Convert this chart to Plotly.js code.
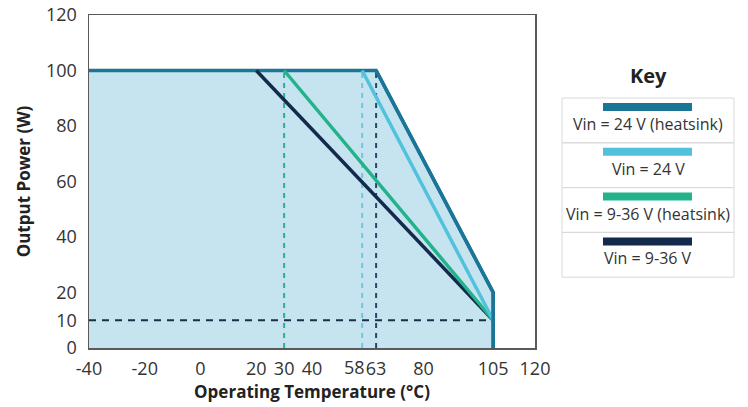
<!DOCTYPE html>
<html><head><meta charset="utf-8">
<script src="https://cdn.plot.ly/plotly-3.0.1.min.js"></script>
<style>html,body{margin:0;padding:0;background:#fff;}#chart{width:748px;height:407px;}</style>
</head><body><div id="chart"></div>
<script>
// ---- data ----
const seriesNames = ['Vin = 24 V (heatsink)', 'Vin = 24 V', 'Vin = 9-36 V (heatsink)', 'Vin = 9-36 V'];
const seriesColors = ['#1a7597', '#52c2dc', '#22b38c', '#132a4c'];
const tempHs24 = [-40, 63, 105, 105];
const powHs24 = [100, 100, 20, 0];
const temp24 = [58, 105];
const pow24 = [100, 10];
const tempHs936 = [30, 105];
const powHs936 = [100, 10];
const temp936 = [20, 105];
const pow936 = [100, 10];
// derating markers (dashed)
const kneeTemps = [30, 58, 63];
const kneeColors = ['#2aae98', '#6cc6de', '#24476a'];
const kneePower = 100;
const minPower = 10;
const minPowerRange = [-40, 105];
const xTickVals = [-40, -20, 0, 20, 30, 40, 58, 63, 80, 105, 120];
const xTickText = ['-40', '-20', '0', '20', '30', '40', '58', '63', '80', '105', '120'];
const yTickVals = [0, 10, 20, 40, 60, 80, 100, 120];
const yTickText = ['0', '10', '20', '40', '60', '80', '100', '120'];

// ---- layout geometry ----
const W = 748, H = 407;
const L = 89, R = 535, T = 15, B = 348;
const px = p => (p - L) / (R - L);
const py = p => (B - p) / (B - T);

const traces = [];
traces.push({x: tempHs24, y: powHs24, mode: 'lines', fill: 'tozeroy',
  fillcolor: 'rgba(112,187,215,0.40)', line: {color: seriesColors[0], width: 3.5}, hoverinfo: 'skip'});
kneeTemps.forEach((t, i) => {
  traces.push({x: [t, t], y: [0, kneePower], mode: 'lines',
    line: {color: kneeColors[i], width: 2, dash: '5px,5px'}, hoverinfo: 'skip'});
});
traces.push({x: minPowerRange, y: [minPower, minPower], mode: 'lines',
  line: {color: '#1a2e4a', width: 2, dash: '7px,6px'}, hoverinfo: 'skip'});
traces.push({x: temp936, y: pow936, mode: 'lines', line: {color: seriesColors[3], width: 3.5}});
traces.push({x: tempHs936, y: powHs936, mode: 'lines', line: {color: seriesColors[2], width: 3.5}});
traces.push({x: temp24, y: pow24, mode: 'lines', line: {color: seriesColors[1], width: 3.5}});
traces.push({x: tempHs24.slice(1), y: powHs24.slice(1), mode: 'lines', line: {color: seriesColors[0], width: 3.5}});

const font = 'Open Sans, Noto Sans, sans-serif';
const shapes = [], annotations = [];

// the crowded "58" tick label is nudged left (as in the reference) via an annotation
const crowdedIdx = xTickVals.indexOf(58);
const tickTextShown = xTickText.map((t, i) => i === crowdedIdx ? '' : t);
annotations.push({xref: 'x', yref: 'paper', x: xTickVals[crowdedIdx], y: py(367), xshift: -8,
  text: xTickText[crowdedIdx], showarrow: false, font: {family: font, size: 18, color: '#333'},
  xanchor: 'center', yanchor: 'middle', borderpad: 0});

// Legend ("Key") drawn as cells
const cellTop = 98, cellH = 44.8, cellL = 562, cellR = 734;
annotations.push({xref: 'paper', yref: 'paper', x: px(648), y: py(75), text: '<b>Key</b>',
  showarrow: false, font: {family: font, size: 20, color: '#222'}, xanchor: 'center', yanchor: 'middle'});
seriesNames.forEach((n, i) => {
  const top = cellTop + i * cellH;
  shapes.push({type: 'rect', xref: 'paper', yref: 'paper', x0: px(cellL), x1: px(cellR), y0: py(top), y1: py(top + cellH),
    line: {color: '#d9d9d9', width: 1}, fillcolor: 'rgba(0,0,0,0)'});
  shapes.push({type: 'rect', xref: 'paper', yref: 'paper', x0: px(603), x1: px(692), y0: py(top + 5), y1: py(top + 13),
    line: {width: 0}, fillcolor: seriesColors[i]});
  annotations.push({xref: 'paper', yref: 'paper', x: px(648), y: py(top + 26), text: n, showarrow: false,
    font: {family: font, size: 16, color: '#333'}, xanchor: 'center', yanchor: 'middle'});
});

const layout = {
  width: W, height: H, margin: {l: L, r: W - R, t: T, b: H - B, pad: 0},
  paper_bgcolor: '#fff', plot_bgcolor: '#fff', showlegend: false,
  font: {family: font, size: 18, color: '#333'},
  xaxis: {range: [-40, 120], tickmode: 'array', tickvals: xTickVals, ticktext: tickTextShown, showgrid: false, zeroline: false,
    showline: true, mirror: true, linecolor: '#5a5a5a', linewidth: 1.5, ticks: '', ticklabelstandoff: 4, tickangle: 0,
    tickfont: {family: font, size: 18, color: '#333'},
    title: {text: '<b>Operating Temperature (°C)</b>', font: {family: font, size: 17, color: '#222'}, standoff: 6}},
  yaxis: {range: [0, 120], tickmode: 'array', tickvals: yTickVals, ticktext: yTickText, showgrid: false, zeroline: false,
    showline: true, mirror: true, linecolor: '#5a5a5a', linewidth: 1.5, ticks: '', ticklabelstandoff: 7,
    tickfont: {family: font, size: 18, color: '#333'},
    title: {text: '<b>Output Power (W)</b>', font: {family: font, size: 17, color: '#222'}, standoff: 11}},
  xaxis2: {overlaying: 'x', anchor: 'y', range: [-40, 120], tickmode: 'linear', tick0: -40, dtick: 20,
    showgrid: true, gridcolor: '#9a9a9a', gridwidth: 1, showticklabels: false, showline: false, zeroline: false, ticks: ''},
  yaxis2: {overlaying: 'y', anchor: 'x', range: [0, 120], tickmode: 'linear', tick0: 0, dtick: 20,
    showgrid: true, gridcolor: '#9a9a9a', gridwidth: 1, showticklabels: false, showline: false, zeroline: false, ticks: ''},
  shapes: shapes, annotations: annotations
};
Plotly.newPlot('chart', traces, layout, {displayModeBar: false, staticPlot: true});
</script></body></html>
